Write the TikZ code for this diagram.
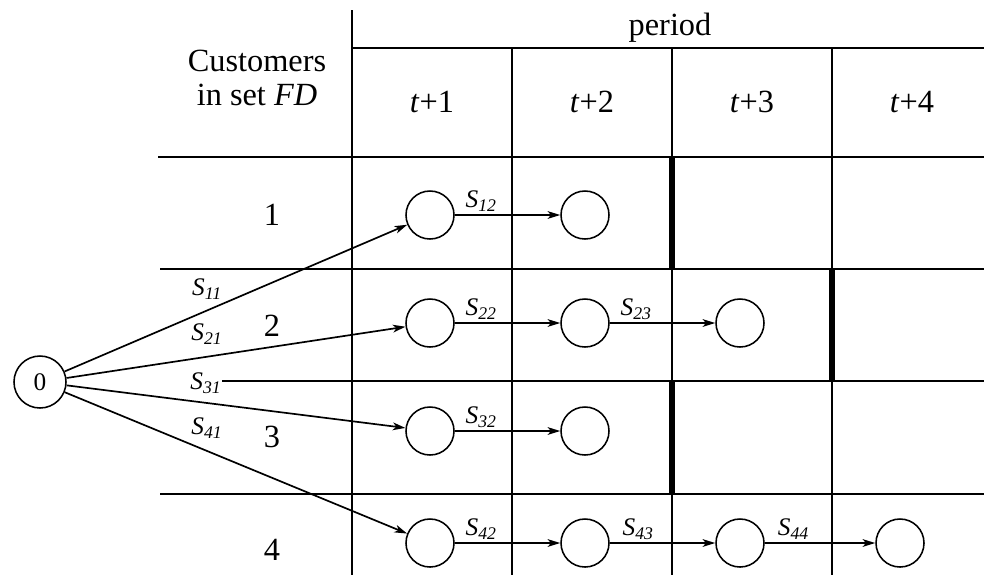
\documentclass[tikz,border=0pt]{standalone}
\usepackage{fontspec}
\setmainfont{Liberation Serif}
\usetikzlibrary{arrows.meta, positioning}

\begin{document}
\begin{tikzpicture}[x=0.025cm, y=-0.025cm, >={Stealth[length=9pt, width=5.5pt, inset=2.5pt]},
    grid/.style={line width=1.3pt},
    cut/.style={line width=3.6pt},
    state/.style={circle, draw, line width=1.1pt, minimum size=1.2cm, inner sep=0pt},
    flow/.style={->, line width=1.2pt},
    cost/.style={font=\fontsize{18}{20}\selectfont\itshape, inner sep=2pt},
    lbl/.style={font=\fontsize{23}{20}\selectfont}]
  \useasboundingbox (0,0) rectangle (984,575);

  % table
  \draw[grid] (352,10) -- (352,575);
  \draw[grid] (352,48) -- (984,48);
  \draw[grid] (158,157) -- (984,157);
  \draw[grid] (160,269) -- (984,269);
  \draw[grid] (222,381) -- (984,381);
  \draw[grid] (160,494) -- (984,494);
  \draw[grid] (512,48) -- (512,575);
  \draw[grid] (672,48) -- (672,575);
  \draw[grid] (832,48) -- (832,575);

  \draw[cut] (672,157) -- (672,269);
  \draw[cut] (832,269) -- (832,381);
  \draw[cut] (672,381) -- (672,494);

  \node[lbl] (per) at (670,28) {period};
  \node[lbl, align=center, font=\fontsize{23}{24}\selectfont] (cust) at (257,78) {Customers\\in set \textit{FD}};
  \node[lbl] (p1) at (432,102) {\textit{t}+1};
  \node[lbl] (p2) at (592,102) {\textit{t}+2};
  \node[lbl] (p3) at (752,102) {\textit{t}+3};
  \node[lbl] (p4) at (912,102) {\textit{t}+4};

  \node[lbl] (r1) at (272,215) {1};
  \node[lbl] (r2) at (272,326) {2};
  \node[lbl] (r3) at (272,437) {3};
  \node[lbl] (r4) at (272,550) {4};

  % states
  \node[state, minimum size=1.3cm, font=\fontsize{18}{20}\selectfont] (o) at (40,382) {0};
  \node[state] (c11) at (430,215) {};
  \node[state] (c12) at (585,215) {};
  \node[state] (c21) at (430,323) {};
  \node[state] (c22) at (585,323) {};
  \node[state] (c23) at (740,323) {};
  \node[state] (c31) at (430,431) {};
  \node[state] (c32) at (585,431) {};
  \node[state] (c41) at (430,543) {};
  \node[state] (c42) at (585,543) {};
  \node[state] (c43) at (740,543) {};
  \node[state] (c44) at (900,543) {};

  % flows
  \draw[flow] (o) -- (c11);
  \draw[flow] (o) -- (c21);
  \draw[flow] (o) -- (c31);
  \draw[flow] (o) -- (c41);
  \node[cost] (s11) at (207,289) {S\textsubscript{11}};
  \node[cost] (s21) at (207,334) {S\textsubscript{21}};
  \node[cost] (s31) at (206,383) {S\textsubscript{31}};
  \node[cost] (s41) at (207,428) {S\textsubscript{41}};

  \draw[flow] (c11) -- node[cost, above, pos=0.25] (s12) {S\textsubscript{12}} (c12);
  \draw[flow] (c21) -- node[cost, above, pos=0.25] (s22) {S\textsubscript{22}} (c22);
  \draw[flow] (c22) -- node[cost, above, pos=0.25] (s23) {S\textsubscript{23}} (c23);
  \draw[flow] (c31) -- node[cost, above, pos=0.25] (s32) {S\textsubscript{32}} (c32);
  \draw[flow] (c41) -- node[cost, above, pos=0.25] (s42) {S\textsubscript{42}} (c42);
  \draw[flow] (c42) -- node[cost, above, pos=0.27] (s43) {S\textsubscript{43}} (c43);
  \draw[flow] (c43) -- node[cost, above, pos=0.26] (s44) {S\textsubscript{44}} (c44);
\end{tikzpicture}
\end{document}
